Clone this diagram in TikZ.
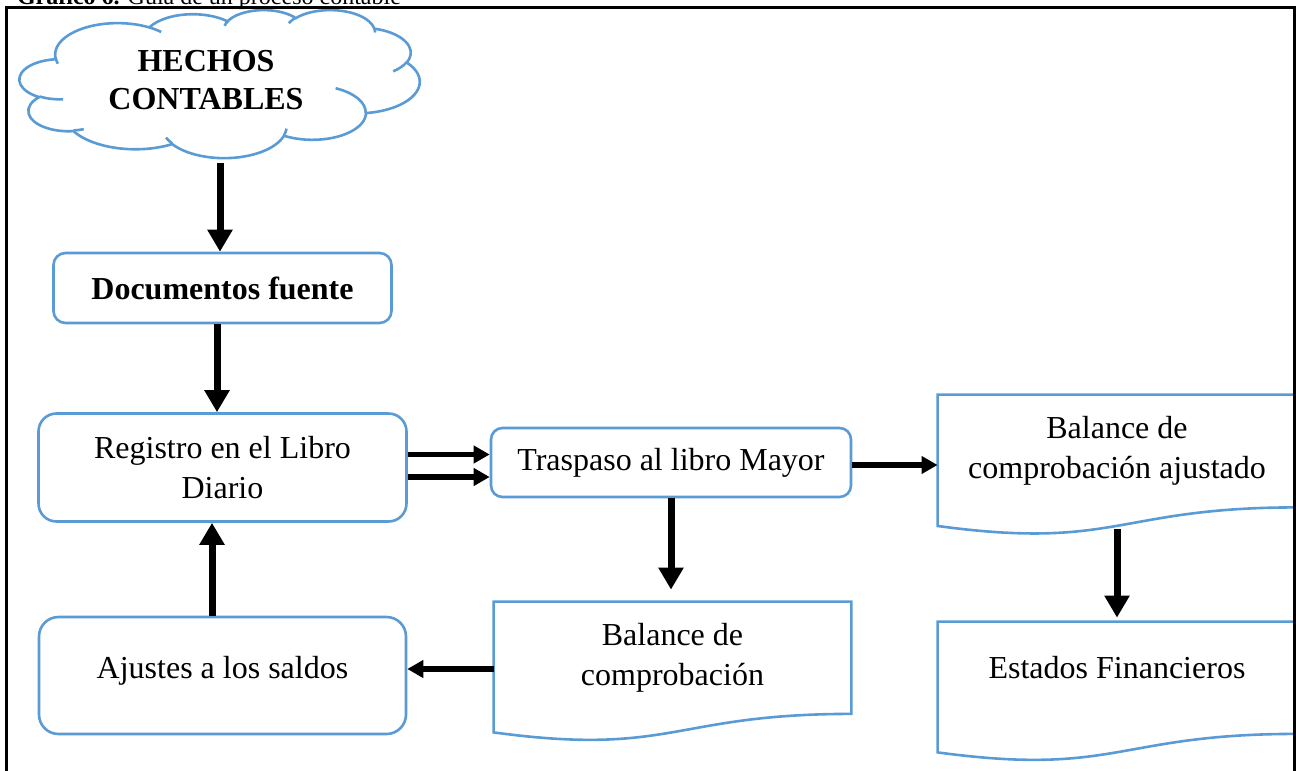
\documentclass[tikz,border=0pt]{standalone}
\usepackage{fontspec}
\setmainfont{Liberation Serif}
\usetikzlibrary{arrows.meta, calc}

\definecolor{wordblue}{RGB}{91,155,213}

% outline of a flowchart document shape around a node
\newcommand{\docoutline}[1]{%
    \draw[line width=1.3pt, draw=wordblue] (#1.north west) -- (#1.north east) -- (#1.south east)
        .. controls (#1.south) and ($(#1.north)!1.381!(#1.south)$)
        .. ($(#1.north west)!1.1646!(#1.south west)$) -- cycle;
}

\begin{document}
\begin{tikzpicture}[x=0.5pt, y=-0.5pt,
    every node/.style={font=\fontsize{16}{20}\selectfont},
    procbox/.style={draw=wordblue, line width=1.3pt, align=center, inner sep=0pt},
    docbox/.style={align=center, inner sep=0pt},
    varrow/.style={line width=3.5pt, -{Triangle[length=11pt, width=12pt]}},
    harrow/.style={line width=2.75pt, -{Triangle[length=8pt, width=8.5pt]}}
]
    \useasboundingbox (0,0) rectangle (1296,771);

    \node[anchor=base west, font=\fontsize{12}{14}\selectfont] (caption) at (10,4) {\textbf{Gráfico 6.} Guía de un proceso contable};

    % cloud
    \node[minimum width=200pt, minimum height=74pt, inner sep=0pt] (hechos) at (220,84) {};
    \begin{scope}[shift={(hechos.north west)}, x=0.46296pt, y=-0.171296pt, line width=1.3pt, draw=wordblue]
        \draw (39.00,143.70)
            arc[start angle=-187.74, delta angle=128.12, x radius=67.53, y radius=91.90]
            arc[start angle=-152.02, delta angle=106.55, x radius=53.33, y radius=72.67]
            arc[start angle=-153.48, delta angle=116.12, x radius=43.65, y radius=59.45]
            arc[start angle=-139.72, delta angle=129.51, x radius=48.57, y radius=65.95]
            arc[start angle=-74.77, delta angle=97.98, x radius=53.33, y radius=72.73]
            arc[start angle=-37.57, delta angle=119.43, x radius=67.75, y radius=92.20]
            arc[start angle=0.46, delta angle=121.53, x radius=57.85, y radius=78.67]
            arc[start angle=16.84, delta angle=129.39, x radius=67.52, y radius=92.15]
            arc[start angle=59.01, delta angle=91.17, x radius=77.20, y radius=105.43]
            arc[start angle=-276.70, delta angle=139.79, x radius=43.60, y radius=59.18]
            arc[start angle=-239.64, delta angle=140.64, x radius=43.45, y radius=59.45]
            -- cycle;
        \draw (46.93,261.77) arc[start angle=85.54, delta angle=34.82, x radius=43.45, y radius=59.45]
            (69.28,348.99) arc[start angle=68.23, delta angle=15.07, x radius=43.60, y radius=59.18]
            (164.78,390.90) arc[start angle=146.23, delta angle=12.24, x radius=67.52, y radius=92.15]
            (288.27,347.51) arc[start angle=4.74, delta angle=12.10, x radius=67.52, y radius=92.15]
            (341.29,229.54) arc[start angle=-64.02, delta angle=64.48, x radius=57.85, y radius=78.67]
            (417.98,153.54) arc[start angle=23.21, delta angle=26.44, x radius=53.33, y radius=72.73]
            (383.24,54.26) arc[start angle=-10.21, delta angle=11.03, x radius=48.57, y radius=65.95]
            (290.78,39.52) arc[start angle=-156.28, delta angle=16.56, x radius=48.57, y radius=65.95]
            (221.41,47.20) arc[start angle=-167.72, delta angle=15.37, x radius=43.65, y radius=59.45]
            (140.00,51.92) arc[start angle=-59.62, delta angle=13.86, x radius=67.53, y radius=91.90]
            (41.27,157.89) arc[start angle=163.18, delta angle=9.08, x radius=67.53, y radius=91.90];
    \end{scope}
    \node[align=center, font=\fontsize{16}{19}\selectfont\bfseries] (hechostext) at (206,80) {HECHOS\\CONTABLES};

    \node[procbox, rounded corners=6pt, minimum width=169pt, minimum height=35pt,
        font=\fontsize{16}{20}\selectfont\bfseries] (docs) at (222.5,288) {Documentos fuente};
    \node[procbox, rounded corners=9pt, minimum width=184pt, minimum height=54pt] (registro) at (222.5,467.5) {Registro en el Libro\\Diario};
    \node[procbox, rounded corners=9.75pt, minimum width=183.5pt, minimum height=58.5pt, text depth=8.5pt] (ajustes) at (222.5,675.5) {Ajustes a los saldos};
    \node[procbox, rounded corners=5.75pt, minimum width=180pt, minimum height=34.5pt] (traspaso) at (671,462.5) {Traspaso al libro Mayor};

    \node[docbox, minimum width=178.5pt, minimum height=55.75pt] (bcomp) at (672.5,657.75) {Balance de\\comprobación};
    \node[docbox, minimum width=179pt, minimum height=56pt] (bca) at (1117,451) {Balance de\\comprobación ajustado};
    \node[docbox, minimum width=179pt, minimum height=55.75pt, text depth=10pt] (estados) at (1117,677.75) {Estados Financieros};
    \docoutline{bcomp}
    \docoutline{bca}
    \docoutline{estados}

    \coordinate (bcawave) at ($(bca.north)!1.19!(bca.south)$);

    \draw[varrow, shorten <=2.5pt] (hechos.south) -- (hechos.south |- docs.north);
    \draw[varrow] ([xshift=-2.75pt]docs.south) -- ([xshift=-2.75pt]registro.north);
    \draw[varrow] ([xshift=-5.25pt]ajustes.north) -- ([xshift=-5.25pt]registro.south);
    \draw[harrow] ([yshift=6.5pt]registro.east) -- ([yshift=6.5pt]registro.east -| traspaso.west);
    \draw[harrow] ([yshift=-4.75pt]registro.east) -- ([yshift=-4.75pt]registro.east -| traspaso.west);
    \draw[harrow] ([yshift=-1.25pt]traspaso.east) -- ([yshift=-1.25pt]traspaso.east -| bca.west);
    \draw[varrow, shorten >=6pt] (traspaso.south) -- (traspaso.south |- bcomp.north);
    \draw[varrow, shorten >=2pt] (bcawave) -- (bcawave |- estados.north);
    \draw[harrow] ([yshift=3.25pt]ajustes.east -| bcomp.west) -- ([yshift=3.25pt]ajustes.east);

    \draw[line width=1.5pt] (6,7) rectangle (1294,800);
\end{tikzpicture}
\end{document}
